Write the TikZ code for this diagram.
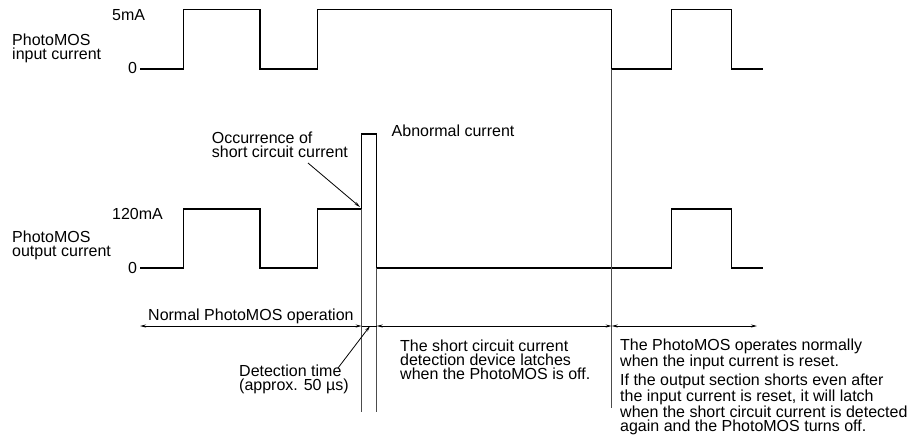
\documentclass[tikz,border=0pt]{standalone}
\usepackage{fontspec}
\setmainfont{Liberation Sans}
\usetikzlibrary{arrows.meta}
\begin{document}
\begin{tikzpicture}[x=1pt,y=-1pt,
  wave/.style={line width=1.5pt, line join=miter, black},
  guide/.style={line width=1pt, black!70},
  dim/.style={line width=0.8pt, black, {Stealth[length=6pt,width=3pt]}-{Stealth[length=6pt,width=3pt]}},
  lead/.style={line width=0.8pt, black, -{Stealth[length=6pt,width=3pt]}},
  lbl/.style={inner sep=0pt, anchor=base west, align=left, font=\fontsize{16}{14.2}\selectfont}]
\useasboundingbox (0,0) rectangle (924,445);
% input waveform
\draw[wave] (140,69) -- (183.3,69) -- (183.3,9.7) -- (260,9.7) -- (260,69) -- (317.3,69) -- (317.3,9.7) -- (611.7,9.7) -- (611.7,69) -- (671.7,69) -- (671.7,9.7) -- (731.7,9.7) -- (731.7,69) -- (763,69);
% output waveform
\draw[wave] (140,268) -- (183.3,268) -- (183.3,209) -- (260,209) -- (260,268) -- (317.3,268) -- (317.3,209) -- (361.7,209) -- (361.7,134) -- (376.7,134) -- (376.7,268) -- (671.7,268) -- (671.7,209) -- (731.7,209) -- (731.7,268) -- (763,268);
% guide lines
\coordinate (g1t) at (361.7,209); \coordinate (g1b) at (361.7,412);
\coordinate (g2t) at (376.7,268); \coordinate (g2b) at (376.7,412);
\coordinate (g3t) at (611.7,69);  \coordinate (g3b) at (611.7,408);
\draw[guide] (g1t) -- (g1b);
\draw[guide] (g2t) -- (g2b);
\draw[guide] (g3t) -- (g3b);
% dimension arrows
\coordinate (a0) at (140,326);
\coordinate (a1) at (361.7,326);
\coordinate (a2) at (376.7,326);
\coordinate (a3) at (611.7,326);
\coordinate (a4) at (757,326);
\draw[dim] (a0) -- (a1);
\draw[line width=0.8pt] (a1) -- (a2);
\draw[dim] (a2) -- (a3);
\draw[dim] (a3) -- (a4);
% labels (base = baseline of last line)
\node[lbl] (l5mA) at (112,20) {5mA};
\node[lbl] (lin) at (12,59.2) {PhotoMOS\\input current};
\node[lbl] (l0a) at (128,73) {0};
\node[lbl] (l120) at (112,219) {120mA};
\node[lbl] (lout) at (12,256.2) {PhotoMOS\\output current};
\node[lbl] (l0b) at (128,273) {0};
\node[lbl] (locc) at (211.7,157.2) {Occurrence of\\short circuit current};
\node[lbl] (labn) at (391.5,136) {Abnormal current};
\node[lbl] (lnorm) at (148,320) {Normal PhotoMOS operation};
\node[lbl] (ldet) at (239,390.2) {Detection time\\(approx. 50 µs)};
\node[lbl] (llatch) at (400,379.4) {The short circuit current\\detection device latches\\when the PhotoMOS is off.};
\node[lbl] (lreset) at (620,366.7) {The PhotoMOS operates normally\\when the input current is reset.};
\node[lbl] (lagain) at (620,431.6) {If the output section shorts even after\\the input current is reset, it will latch\\when the short circuit current is detected\\again and the PhotoMOS turns off.};
% leaders
\coordinate (occtip) at (360,207);
\coordinate (dettip) at (370,326);
\draw[lead] (308,163) -- (occtip);
\draw[lead] (338,368) -- (dettip);
\end{tikzpicture}
\end{document}
